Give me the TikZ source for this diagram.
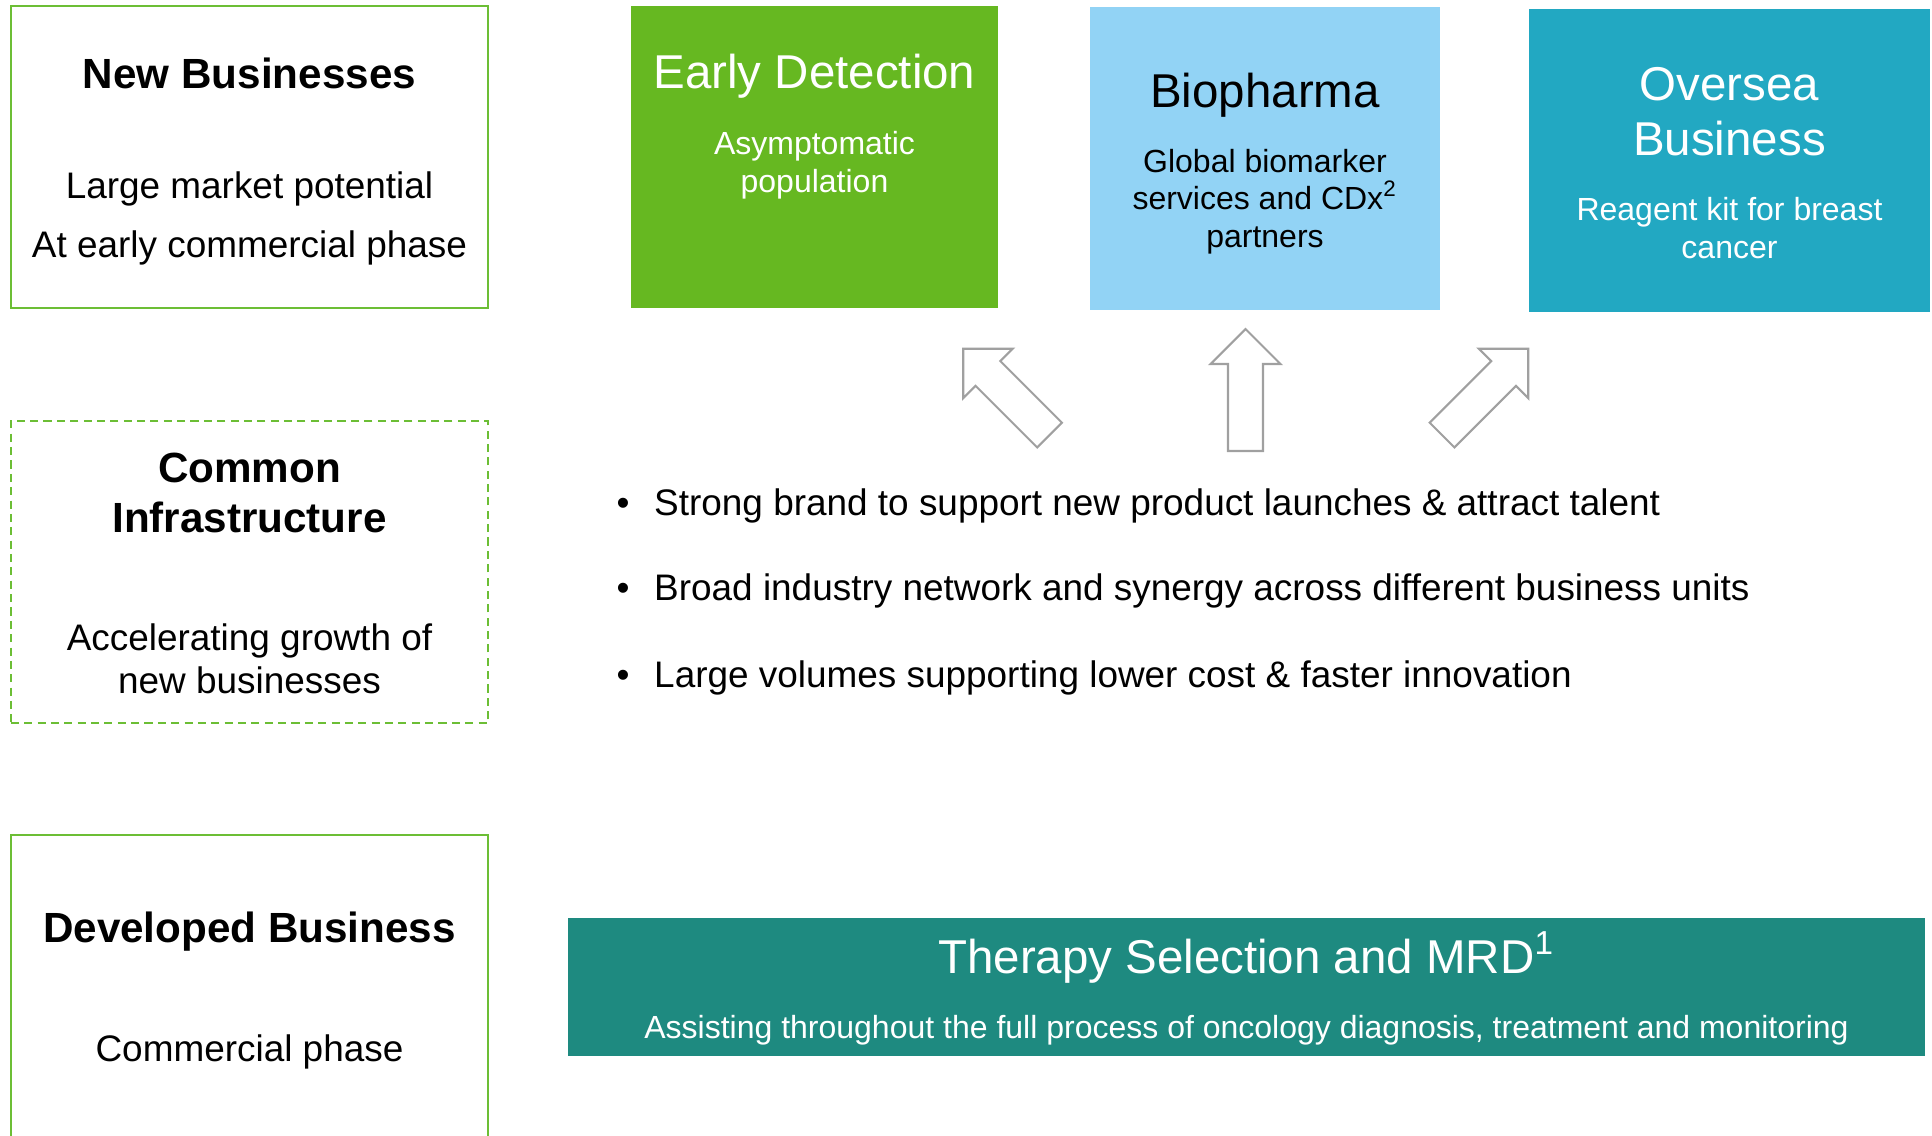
\documentclass[tikz,border=0pt]{standalone}
\usepackage{fontspec}
\setmainfont{Liberation Sans}
\usepackage{tikz}
\definecolor{framegreen}{HTML}{6CBE35}
\definecolor{edgreen}{HTML}{66B821}
\definecolor{bpblue}{HTML}{92D3F5}
\definecolor{osteal}{HTML}{22A8C2}
\definecolor{tsteal}{HTML}{1E8A80}
\definecolor{arrowgray}{HTML}{A0A0A0}

\begin{document}
\begin{tikzpicture}[x=0.01cm,y=-0.01cm,
    boxframe/.style={draw=framegreen,line width=0.6pt,minimum width=4.77cm,minimum height=3.02cm,inner sep=0},
    tilebox/.style={inner sep=0,minimum height=3.02cm},
    tilehead/.style={font=\fontsize{13.5}{15.6}\selectfont,align=center,anchor=base,inner sep=0},
    tilesub/.style={font=\fontsize{9.1}{10.6}\selectfont,align=center,anchor=base,inner sep=0},
    rowhead/.style={font=\fontsize{12}{14}\selectfont\bfseries,align=center,anchor=base,inner sep=0},
    rowtext/.style={font=\fontsize{10.5}{12.2}\selectfont,align=center,anchor=base,inner sep=0},
    bulletline/.style={font=\fontsize{10.5}{12.2}\selectfont,anchor=base west,inner sep=0},
    hollow/.style={draw=arrowgray,line width=0.6pt,fill=white}]
  \useasboundingbox (0,0) rectangle (1932,1136);

  \node[boxframe] (nbbox) at (249.5,157) {};
  \node[boxframe,dash pattern=on 2.3pt off 1.5pt] (cibox) at (249.5,572) {};
  \node[boxframe,minimum height=3.15cm] (dbbox) at (249.5,992.5) {};

  \node[tilebox,fill=edgreen,minimum width=3.67cm] (edbox) at (814.5,157) {};
  \node[tilebox,fill=bpblue,minimum width=3.5cm,minimum height=3.03cm] (bpbox) at (1265,158.5) {};
  \node[tilebox,fill=osteal,minimum width=4.01cm,minimum height=3.03cm] (osbox) at (1729.5,160.5) {};
  \node[tilebox,fill=tsteal,minimum width=13.57cm,minimum height=1.38cm] (tsbox) at (1246.5,987) {};

  \node[rowhead] (nbtitle) at (249.5,88) {New Businesses};
  \node[rowtext] (nbtext) at (249.5,257) {Large market potential\\[4.3pt]At early commercial phase};
  \node[rowhead] (cititle) at (249.5,532) {Common\\Infrastructure};
  \node[rowtext] (citext) at (249.5,693) {Accelerating growth of\\new businesses};
  \node[rowhead] (dbtitle) at (249.5,942) {Developed Business};
  \node[rowtext] (dbtext) at (249.5,1061) {Commercial phase};

  \node[tilehead,text=white] (edtitle) at (814.5,88) {Early Detection};
  \node[tilesub,text=white] (edtext) at (814.5,192) {Asymptomatic\\population};
  \node[tilehead] (bptitle) at (1265,107) {Biopharma};
  \node[tilesub] (bptext) at (1265,247) {Global biomarker\\services and CDx\textsuperscript{2}\\partners};
  \node[tilehead,text=white] (ostitle) at (1729.5,155) {Oversea\\Business};
  \node[tilesub,text=white] (ostext) at (1729.5,258) {Reagent kit for breast\\cancer};
  \node[tilehead,text=white] (tstitle) at (1246.5,973) {Therapy Selection and MRD\textsuperscript{1}};
  \node[tilesub,text=white] (tstext) at (1246.5,1038) {Assisting throughout the full process of oncology diagnosis, treatment and monitoring};

  \foreach \px/\py/\ang in {1049.5/435/45,1245.5/451/0,1442/435/-45}
    \draw[hollow,shift={(\px,\py)},rotate=\ang] (-17.5,0) -- (17.5,0) -- (17.5,-87) -- (35,-87) -- (0,-122) -- (-35,-87) -- (-17.5,-87) -- cycle;

  \node[bulletline] (bl1) at (616,515) {\textbullet\hspace{7pt}Strong brand to support new product launches \& attract talent};
  \node[bulletline] (bl2) at (616,600) {\textbullet\hspace{7pt}Broad industry network and synergy across different business units};
  \node[bulletline] (bl3) at (616,687) {\textbullet\hspace{7pt}Large volumes supporting lower cost \& faster innovation};
\end{tikzpicture}
\end{document}
